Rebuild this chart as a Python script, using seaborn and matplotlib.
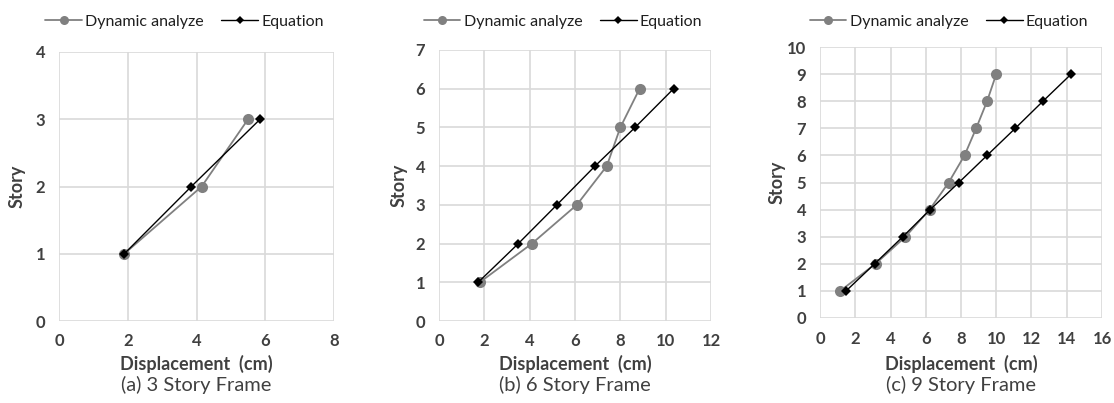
import matplotlib
matplotlib.use("Agg")
import matplotlib.pyplot as plt
import seaborn as sns
import pandas as pd
from matplotlib.lines import Line2D

sns.set_theme(style="white")
plt.rcParams['font.family'] = ['Lato', 'DejaVu Sans']

# ---- data ----
stories_a = [1, 2, 3]
dyn_a = [1.9, 4.15, 5.5]
eq_a = [1.9, 3.85, 5.85]

stories_b = [1, 2, 3, 4, 5, 6]
dyn_b = [1.8, 4.1, 6.08, 7.4, 8.0, 8.85]
eq_b = [1.73, 3.5, 5.2, 6.88, 8.65, 10.35]

stories_c = [1, 2, 3, 4, 5, 6, 7, 8, 9]
dyn_c = [1.15, 3.15, 4.85, 6.22, 7.3, 8.2, 8.86, 9.48, 10.0]
eq_c = [1.48, 3.1, 4.7, 6.25, 7.88, 9.48, 11.08, 12.65, 14.25]

captions = ["(a) 3 Story Frame", "(b) 6 Story Frame", "(c) 9 Story Frame"]
series_names = ["Dynamic analyze", "Equation"]

panels = [
    dict(st=stories_a, dyn=dyn_a, eq=eq_a, xmax=8, ymax=4),
    dict(st=stories_b, dyn=dyn_b, eq=eq_b, xmax=12, ymax=7),
    dict(st=stories_c, dyn=dyn_c, eq=eq_c, xmax=16, ymax=10),
]
W, H = 1114, 403
# axes boxes in pixels: left, top, right, bottom
boxes = [(59, 52, 334, 321), (439, 50, 711, 321), (820, 47, 1102, 318)]
ylabel_x = [18, 400, 778]

TXT = "#404040"
DYN = "#808080"
EQ = "#000000"

fig = plt.figure(figsize=(W / 100, H / 100), dpi=100)
for p, (l, t, r, b), cap, ylx in zip(panels, boxes, captions, ylabel_x):
    ax = fig.add_axes([l / W, 1 - b / H, (r - l) / W, (b - t) / H])
    aw, ah = r - l, b - t
    n = len(p["st"])
    df = pd.DataFrame({"x": p["dyn"] + p["eq"], "y": p["st"] + p["st"],
                       "s": [series_names[0]] * n + [series_names[1]] * n})
    sns.lineplot(data=df[df.s == series_names[0]], x="x", y="y", sort=False, estimator=None,
                 color=DYN, lw=1.3, marker="o", markersize=8, markeredgewidth=0,
                 markerfacecolor=DYN, ax=ax, zorder=3)
    sns.lineplot(data=df[df.s == series_names[1]], x="x", y="y", sort=False, estimator=None,
                 color=EQ, lw=1.0, marker="D", markersize=5, markeredgewidth=0,
                 markerfacecolor=EQ, ax=ax, zorder=4)
    ax.set_xlim(0, p["xmax"])
    ax.set_ylim(0, p["ymax"])
    ax.set_xticks(range(0, p["xmax"] + 1, 2))
    ax.set_yticks(range(0, p["ymax"] + 1, 1))
    ax.grid(True, color="#d9d9d9", lw=1.2)
    for s in ax.spines.values():
        s.set_visible(False)
    ax.tick_params(axis="both", length=0, labelsize=12, labelcolor=TXT)
    ax.tick_params(axis="x", pad=9)
    ax.tick_params(axis="y", pad=10)
    for lab in ax.get_xticklabels() + ax.get_yticklabels():
        lab.set_fontweight("bold")
    ax.set_xlabel("Displacement  (cm)", fontsize=13, fontweight="bold", color=TXT)
    ax.xaxis.set_label_coords(0.5, -(355 - b) / ah)
    ax.set_ylabel("Story", fontsize=13, fontweight="bold", color=TXT)
    ax.yaxis.set_label_coords(-(l - (ylx + 8)) / aw, 0.5)
    fig.text((l + r) / 2 / W, 1 - 385 / H, cap, ha="center", va="center",
             fontsize=14.5, color=TXT)
    handles = [
        Line2D([], [], color=DYN, lw=1.3, marker="o", markersize=6.5, markeredgewidth=0),
        Line2D([], [], color=EQ, lw=1.0, marker="D", markersize=4.5, markeredgewidth=0),
    ]
    ax.legend(handles, series_names, loc="center",
              bbox_to_anchor=(0.5 - 12 / aw, 1 + (t - 22) / ah), ncol=2, frameon=False,
              fontsize=11.5, handlelength=2.3, handletextpad=0.2, columnspacing=1.1,
              borderaxespad=0, borderpad=0, labelcolor="#1f1f1f")

fig.savefig("out.png", dpi=100)
